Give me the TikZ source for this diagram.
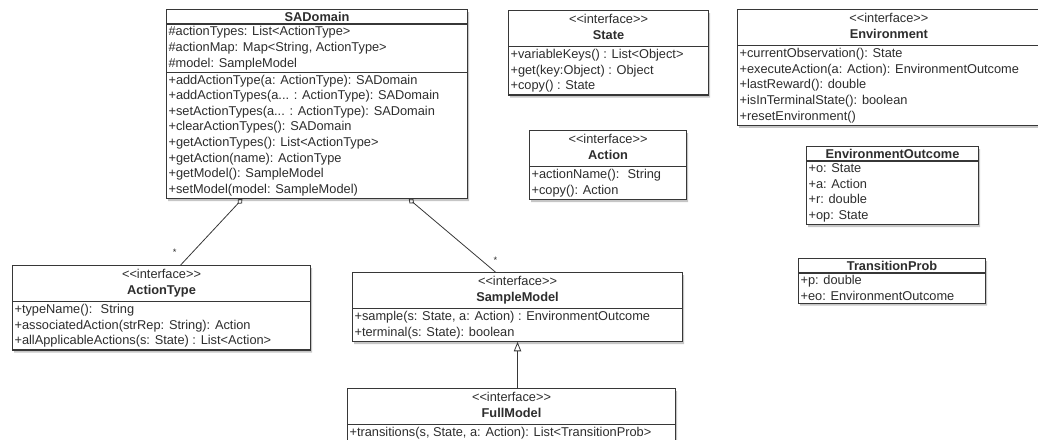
\documentclass[tikz,border=0pt]{standalone}
\usepackage{fontspec}
\setmainfont{Liberation Sans}
\usepackage{tikz}
\usetikzlibrary{shapes.multipart, shadows, arrows.meta, calc}
\definecolor{umlline}{RGB}{55,55,55}
\definecolor{umltext}{RGB}{45,45,45}

\newcommand{\iface}[1]{\begin{tabular}{@{}c@{}}<{}<interface>{}>\\\textbf{#1}\end{tabular}}

\begin{document}
\begin{tikzpicture}[x=0.75pt, y=-0.75pt,
  every node/.style={inner sep=1.5pt},
  uml/.style={draw=umlline, line width=0.8pt, fill=white,
              rectangle split, rectangle split parts=#1,
              rectangle split part align={center,left,left},
              align=left, anchor=north west, text=umltext,
              font=\fontsize{9.6}{11.7}\selectfont,
              drop shadow={shadow xshift=1.2pt, shadow yshift=-2pt, opacity=0.45}},
  uml/.default=2,
  agg/.style={{Diamond[open,length=5pt,width=4.5pt]}-, umlline, semithick},
  gen/.style={-{Triangle[open,length=7pt,width=5.5pt]}, umlline, semithick},
  mult/.style={font=\scriptsize, text=umltext, inner sep=0pt}]
\useasboundingbox (0,0) rectangle (1038,439);

% domain side
\node[uml=3, minimum width=225.75pt] (sad) at (166,9) {\textbf{SADomain}
  \nodepart{second}\#actionTypes: List<ActionType>\\
  \#actionMap: Map<String, ActionType>\\
  \#model: SampleModel
  \nodepart{third}+addActionType(a: ActionType): SADomain\\
  +addActionTypes(a... : ActionType): SADomain\\
  +setActionTypes(a... : ActionType): SADomain\\
  +clearActionTypes(): SADomain\\
  +getActionTypes(): List<ActionType>\\
  +getAction(name): ActionType\\
  +getModel(): SampleModel\\
  +setModel(model: SampleModel)};

\node[uml, minimum width=150pt] (st) at (508,10) {\iface{State}
  \nodepart{second}+variableKeys() : List<Object>\\
  +get(key:Object) : Object\\
  +copy() : State};

\node[uml, minimum width=117.75pt] (act) at (529,130) {\iface{Action}
  \nodepart{second}+actionName():~ String\\
  +copy(): Action};

\node[uml, minimum width=227pt] (env) at (737,9) {\iface{Environment}
  \nodepart{second}+currentObservation(): State\\
  +executeAction(a: Action): EnvironmentOutcome\\
  +lastReward(): double\\
  +isInTerminalState(): boolean\\
  +resetEnvironment()};

\node[uml, minimum width=129pt] (eo) at (806,146) {\textbf{EnvironmentOutcome}
  \nodepart{second}+o: State\\
  +a: Action\\
  +r: double\\
  +op: State};

\node[uml, minimum width=140.25pt] (tp) at (798,258) {\textbf{TransitionProb}
  \nodepart{second}+p: double\\
  +eo: EnvironmentOutcome};

% model side
\node[uml, minimum width=223.5pt] (atype) at (12,265) {\iface{ActionType}
  \nodepart{second}+typeName():~ String\\
  +associatedAction(strRep: String): Action\\
  +allApplicableActions(s: State) : List<Action>};

\node[uml, minimum width=247.5pt] (sm) at (352,272) {\iface{SampleModel}
  \nodepart{second}+sample(s: State, a: Action) : EnvironmentOutcome\\
  +terminal(s: State): boolean};

\node[uml, minimum width=246pt] (fm) at (347,388) {\iface{FullModel}
  \nodepart{second}+transitions(s, State, a: Action): List<TransitionProb>};

\draw[agg] ($(sad.south west)!0.2525!(sad.south east)$)
  -- ($(atype.north west)!0.564!(atype.north east)$)
  node[mult, at end, xshift=-4.5pt, yshift=9.5pt] {*};
\draw[agg] ($(sad.south west)!0.804!(sad.south east)$)
  -- ($(sm.north west)!0.433!(sm.north east)$)
  node[mult, at end, yshift=9pt] {*};
\draw[gen] ($(fm.north west)!0.518!(fm.north east)$)
  -- ($(sm.south west)!0.5!(sm.south east)$);
\end{tikzpicture}
\end{document}
